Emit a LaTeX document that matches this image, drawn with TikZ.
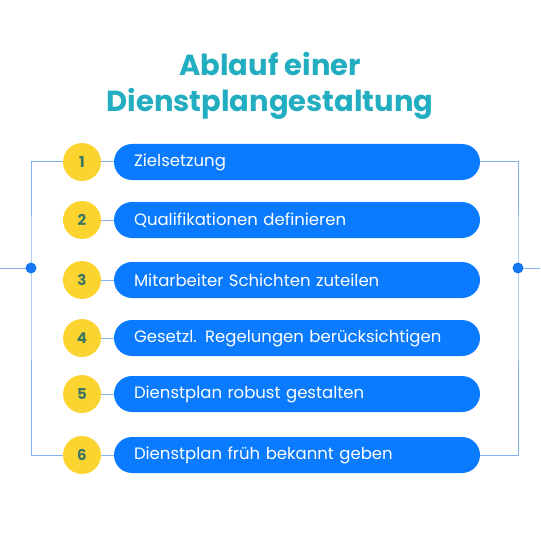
\documentclass[tikz,border=0pt]{standalone}
\usepackage{fontspec}
\setmainfont{Poppins}
\usepackage{xcolor}
\usepackage{tikz}
\usetikzlibrary{positioning,calc}
\definecolor{pillblue}{RGB}{10,123,255}
\definecolor{linkblue}{RGB}{130,178,240}
\definecolor{dotblue}{RGB}{22,120,240}
\definecolor{numgold}{RGB}{252,212,48}
\definecolor{numtext}{RGB}{62,118,100}
\definecolor{titleteal}{RGB}{34,174,192}

\begin{document}
\begin{tikzpicture}[
  x=1pt, y=-1pt,
  title/.style={font=\fontsize{29}{32}\selectfont\bfseries, text=titleteal},
  num/.style={circle, fill=numgold, minimum size=38pt, inner sep=0pt,
              font=\fontsize{15}{16}\selectfont\bfseries, text=numtext},
  pill/.style={fill=pillblue, rounded corners=18pt, minimum width=366pt,
               minimum height=36pt, text width=326pt, inner xsep=20pt,
               align=left, text=white, font=\fontsize{16.5}{18}\selectfont},
  link/.style={draw=linkblue, line width=1pt},
  dot/.style={circle, fill=dotblue, minimum size=11pt, inner sep=0pt}
]
  \useasboundingbox (0,0) rectangle (540,540);

  % title
  \node[title] (t1) at (270,64) {Ablauf einer};
  \node[title] (t2) at (270,104) {Dienstplangestaltung};

  % steps
  \foreach \i/\y/\txt in {1/162/Zielsetzung,
                          2/220/Qualifikationen definieren,
                          3/280/Mitarbeiter Schichten zuteilen,
                          4/338/Gesetzl. Regelungen berücksichtigen,
                          5/394/Dienstplan robust gestalten,
                          6/455/Dienstplan früh bekannt geben} {
    \node[pill] (step\i) at (297,\y) {\txt};
    \node[num] (num\i) at (82,\y) {\i};
    \draw[link] (num\i) -- (step\i);
  }

  % side rails
  \coordinate (lrail) at (31,268);
  \coordinate (rrail) at (518,268);
  \coordinate (lin) at (0,268);
  \coordinate (rout) at (540,268);
  \draw[link] (num1.west) -| (lrail) |- (num6.west);
  \draw[link] (step1.east) -| (rrail) |- (step6.east);
  \draw[link] (lin) -- (lrail);
  \draw[link] (rrail) -- (rout);
  \node[dot] at (lrail) {};
  \node[dot] at (rrail) {};
\end{tikzpicture}
\end{document}
